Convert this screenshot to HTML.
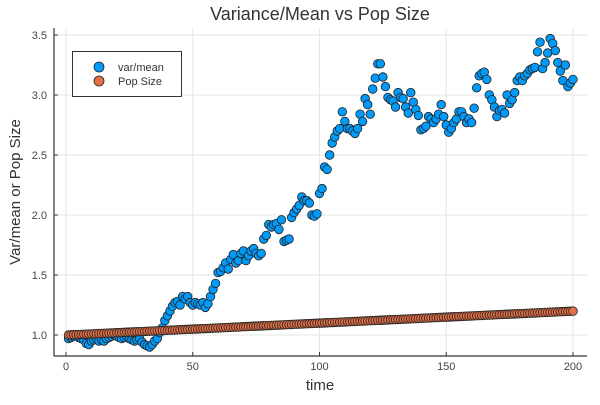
<!DOCTYPE html>
<html><head><meta charset="utf-8"><style>
body{margin:0;background:#fff;}
svg text{font-family:"Liberation Sans",sans-serif;}
</style></head><body>
<svg id="chart" width="600" height="400" xmlns="http://www.w3.org/2000/svg">
<rect width="600" height="400" fill="#fff"/>
<text x="320" y="20" font-size="18" text-anchor="middle" fill="#333">Variance/Mean vs Pop Size</text>
<g id="grid"></g>
<g id="axes"></g>
<g id="series-var"></g>
<g id="series-pop"></g>
<text x="320" y="390" font-size="15" text-anchor="middle" fill="#333">time</text>
<text transform="translate(20,192) rotate(-90)" font-size="15" text-anchor="middle" fill="#333">Var/mean or Pop Size</text>
<g>
<rect x="72.5" y="51.5" width="109" height="45" fill="#fff" stroke="#333" stroke-width="1"/>
<circle cx="99" cy="67" r="5" fill="#009AF9" stroke="#222" stroke-width="0.8"/>
<text x="118" y="71" font-size="11" fill="#333">var/mean</text>
<circle cx="99" cy="81" r="5" fill="#E26F46" stroke="#222" stroke-width="0.8"/>
<text x="118" y="85" font-size="11" fill="#333">Pop Size</text>
</g>
</svg>
<script>
const varMean = [
0.97,0.98,0.99,1.00,0.98,0.97,0.96,0.93,0.92,0.95,
0.96,0.97,0.95,0.96,0.95,0.97,0.98,0.99,1.00,0.99,
0.98,0.97,0.98,0.99,0.97,0.96,0.95,0.96,0.97,0.94,
0.92,0.91,0.90,0.92,0.95,0.97,1.02,1.06,1.12,1.16,
1.20,1.24,1.27,1.28,1.25,1.32,1.30,1.32,1.27,1.25,
1.27,1.26,1.25,1.27,1.23,1.26,1.32,1.38,1.43,1.52,
1.53,1.56,1.60,1.55,1.63,1.67,1.60,1.62,1.68,1.70,
1.62,1.66,1.70,1.72,1.68,1.66,1.68,1.80,1.83,1.92,
1.90,1.92,1.93,1.88,1.96,1.78,1.79,1.80,1.98,2.02,
2.05,2.08,2.15,2.12,2.12,2.10,2.00,1.99,2.01,2.18,
2.22,2.40,2.38,2.50,2.60,2.65,2.70,2.72,2.86,2.78,
2.72,2.72,2.70,2.68,2.72,2.84,2.78,2.97,2.92,2.84,
3.05,3.14,3.26,3.26,3.15,3.07,2.98,2.96,2.95,2.90,
3.02,2.98,2.97,2.90,2.85,3.02,2.94,2.88,2.83,2.71,
2.72,2.74,2.82,2.80,2.77,2.80,2.84,2.92,2.82,2.75,
2.69,2.72,2.77,2.80,2.86,2.86,2.82,2.77,2.80,2.77,
2.89,3.06,3.16,3.18,3.19,3.13,3.00,2.96,2.90,2.82,
2.87,2.88,2.85,3.00,2.93,2.96,3.02,3.12,3.15,3.12,
3.16,3.18,3.21,3.22,3.23,3.36,3.44,3.22,3.27,3.35,
3.47,3.43,3.37,3.27,3.20,3.12,3.25,3.07,3.10,3.13];
const popSize = [
1.000,1.001,1.002,1.003,1.004,1.005,1.006,1.007,1.008,1.009,
1.010,1.011,1.012,1.013,1.014,1.015,1.016,1.017,1.018,1.019,
1.020,1.021,1.022,1.023,1.024,1.025,1.026,1.027,1.028,1.029,
1.030,1.031,1.032,1.033,1.034,1.035,1.036,1.037,1.038,1.039,
1.040,1.041,1.042,1.043,1.044,1.045,1.046,1.047,1.048,1.049,
1.050,1.051,1.052,1.053,1.054,1.055,1.056,1.057,1.058,1.059,
1.060,1.061,1.062,1.063,1.064,1.065,1.066,1.067,1.068,1.069,
1.070,1.071,1.072,1.073,1.074,1.075,1.076,1.077,1.078,1.079,
1.080,1.081,1.082,1.083,1.084,1.085,1.086,1.087,1.088,1.089,
1.090,1.091,1.092,1.093,1.094,1.095,1.096,1.097,1.098,1.099,
1.100,1.101,1.102,1.103,1.104,1.105,1.106,1.107,1.108,1.109,
1.110,1.111,1.112,1.113,1.114,1.115,1.116,1.117,1.118,1.119,
1.120,1.121,1.122,1.123,1.124,1.125,1.126,1.127,1.128,1.129,
1.130,1.131,1.132,1.133,1.134,1.135,1.136,1.137,1.138,1.139,
1.140,1.141,1.142,1.143,1.144,1.145,1.146,1.147,1.148,1.149,
1.150,1.151,1.152,1.153,1.154,1.155,1.156,1.157,1.158,1.159,
1.160,1.161,1.162,1.163,1.164,1.165,1.166,1.167,1.168,1.169,
1.170,1.171,1.172,1.173,1.174,1.175,1.176,1.177,1.178,1.179,
1.180,1.181,1.182,1.183,1.184,1.185,1.186,1.187,1.188,1.189,
1.190,1.191,1.192,1.193,1.194,1.195,1.196,1.197,1.198,1.199];
const xTicks = [0, 50, 100, 150, 200];
const yTicks = [1.0, 1.5, 2.0, 2.5, 3.0, 3.5];
const yTickLabels = ["1.0","1.5","2.0","2.5","3.0","3.5"];

const NS = "http://www.w3.org/2000/svg";
const L = 54, R = 587, T = 28, B = 356;
function xs(t){ return 66 + t * 2.535; }
function ys(v){ return 335 - (v - 1) * 120; }
function mk(tag, attrs, parent){
  const e = document.createElementNS(NS, tag);
  for (const k in attrs) e.setAttribute(k, attrs[k]);
  parent.appendChild(e); return e;
}
const grid = document.getElementById('grid');
const axes = document.getElementById('axes');
xTicks.forEach(t => {
  const g = mk('line', {x1:xs(t), x2:xs(t), y1:T, y2:B, stroke:'#e6e6e6', 'stroke-width':1}, grid);
  
  
  const tk = mk('line', {x1:xs(t), x2:xs(t), y1:B, y2:B-4, stroke:'#333', 'stroke-width':1}, axes);
  
  
  const lb = mk('text', {x:xs(t), y:B+14, 'font-size':11, 'text-anchor':'middle', fill:'#444'}, axes);
  lb.textContent = String(t);
  
  
});
yTicks.forEach((v, i) => {
  const g = mk('line', {x1:L, x2:R, y1:ys(v), y2:ys(v), stroke:'#e6e6e6', 'stroke-width':1}, grid);
  
  
  const tk = mk('line', {x1:L, x2:L+4, y1:ys(v), y2:ys(v), stroke:'#333', 'stroke-width':1}, axes);
  
  
  const lb = mk('text', {x:L-7, y:ys(v)+4, 'font-size':11, 'text-anchor':'end', fill:'#444'}, axes);
  lb.textContent = yTickLabels[i];
  
  
});
const xa = mk('line', {x1:L, x2:R, y1:B, y2:B, stroke:'#333', 'stroke-width':1.2}, axes);


const ya = mk('line', {x1:L, x2:L, y1:T, y2:B, stroke:'#333', 'stroke-width':1.2}, axes);



const sv = document.getElementById('series-var');
varMean.forEach((v, i) => {
  const c = mk('circle', {cx:xs(i+1), cy:ys(v), r:4.3, fill:'#009AF9', stroke:'#222', 'stroke-width':0.8}, sv);
  
  
});
const sp = document.getElementById('series-pop');
popSize.forEach((v, i) => {
  const c = mk('circle', {cx:xs(i+1), cy:ys(v), r:4.3, fill:'#E26F46', stroke:'#222', 'stroke-width':0.8}, sp);
  
  
});
</script>
</body></html>
